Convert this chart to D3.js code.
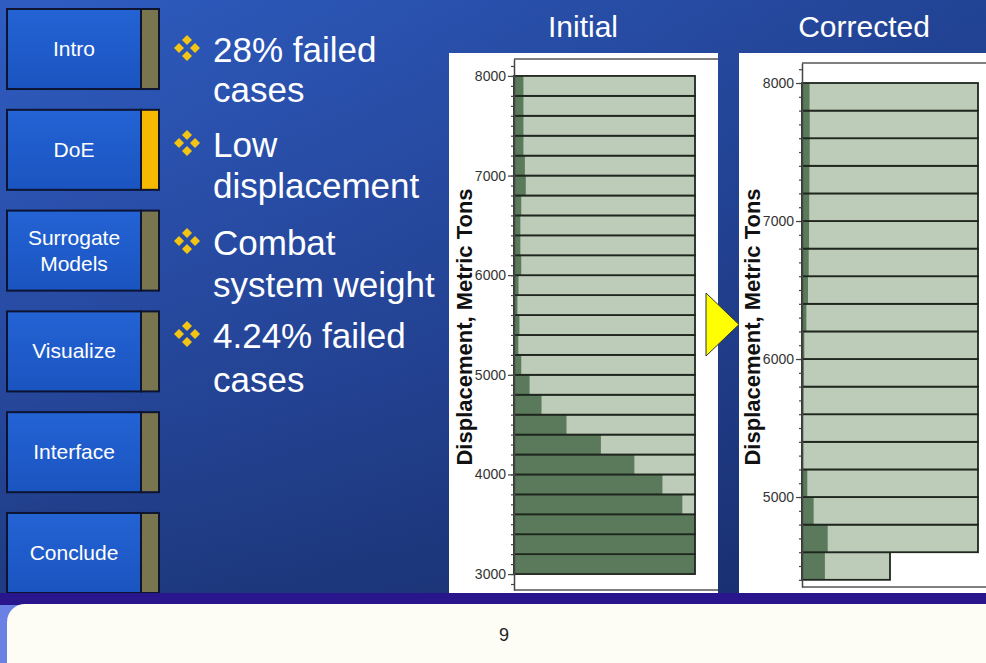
<!DOCTYPE html>
<html>
<head>
<meta charset="utf-8">
<script src="https://cdn.jsdelivr.net/npm/d3@7"></script>
<style>
  body { margin: 0; overflow: hidden; background: #1c3a80; }
  text { font-family: "Liberation Sans", Arial, sans-serif; }
</style>
</head>
<body>
<script>

// slide texts
var navLabels = ["Intro", "DoE", "Surrogate Models", "Visualize", "Interface", "Conclude"];
var activeNav = "DoE";
var bulletLines = [["28% failed", "cases"], ["Low", "displacement"], ["Combat", "system weight"], ["4.24% failed", "cases"]];
var pageNumber = "9";
var axisTitle = "Displacement, Metric Tons";

// initial histogram: bin start (metric tons), failed share, bar length
var initialBins   = [3000, 3200, 3400, 3600, 3800, 4000, 4200, 4400, 4600, 4800, 5000, 5200, 5400,
                     5600, 5800, 6000, 6200, 6400, 6600, 6800, 7000, 7200, 7400, 7600, 7800];
var initialFailed = [1, 1, 1, 0.93, 0.82, 0.665, 0.48, 0.29, 0.152, 0.086, 0.04, 0.024, 0.03,
                     0.019, 0.025, 0.04, 0.035, 0.035, 0.04, 0.065, 0.06, 0.052, 0.052, 0.052, 0.052];
var initialTotal  = [1, 1, 1, 1, 1, 1, 1, 1, 1, 1, 1, 1, 1,
                     1, 1, 1, 1, 1, 1, 1, 1, 1, 1, 1, 1];
var initialTicks  = [3000, 4000, 5000, 6000, 7000, 8000];

// corrected histogram
var correctedBins   = [4400, 4600, 4800, 5000, 5200, 5400, 5600, 5800, 6000,
                       6200, 6400, 6600, 6800, 7000, 7200, 7400, 7600, 7800];
var correctedFailed = [0.13, 0.146, 0.066, 0.03, 0.007, 0.006, 0.008, 0.01, 0.013,
                       0.025, 0.034, 0.038, 0.04, 0.041, 0.042, 0.044, 0.044, 0.043];
var correctedTotal  = [0.5, 1, 1, 1, 1, 1, 1, 1, 1,
                       1, 1, 1, 1, 1, 1, 1, 1, 1];
var correctedTicks  = [5000, 6000, 7000, 8000];

var binWidth = 200;

var width = 986, height = 663;

var svg = d3.select("body")
    .append("svg")
    .attr("width", width)
    .attr("height", height);

var defs = svg.append("defs");

// background gradients
var bg = defs.append("linearGradient").attr("id", "bgV")
    .attr("x1", 0).attr("y1", 0).attr("x2", 0).attr("y2", 1);
bg.append("stop").attr("offset", "0%").attr("stop-color", "#2f5dc2");
bg.append("stop").attr("offset", "55%").attr("stop-color", "#27499f");
bg.append("stop").attr("offset", "100%").attr("stop-color", "#1c377a");

var bgH = defs.append("linearGradient").attr("id", "bgH")
    .attr("x1", 0).attr("y1", 0).attr("x2", 1).attr("y2", 0);
bgH.append("stop").attr("offset", "0%").attr("stop-color", "#0a1440").attr("stop-opacity", 0);
bgH.append("stop").attr("offset", "100%").attr("stop-color", "#0a1440").attr("stop-opacity", 0.35);

var btn = defs.append("linearGradient").attr("id", "btnG")
    .attr("x1", 0).attr("y1", 0).attr("x2", 0).attr("y2", 1);
btn.append("stop").attr("offset", "0%").attr("stop-color", "#2463d4");
btn.append("stop").attr("offset", "100%").attr("stop-color", "#1a54c0");

var rule = defs.append("linearGradient").attr("id", "ruleG")
    .attr("x1", 0).attr("y1", 0).attr("x2", 1).attr("y2", 0);
rule.append("stop").attr("offset", "0%").attr("stop-color", "#8c9c9c");
rule.append("stop").attr("offset", "100%").attr("stop-color", "#c4aa52");

svg.append("rect").attr("width", width).attr("height", height).attr("fill", "url(#bgV)");
svg.append("rect").attr("width", width).attr("height", 593).attr("fill", "url(#bgH)");

// thin rule at top
svg.append("line")
    .attr("x1", 160).attr("x2", 865).attr("y1", 5).attr("y2", 5)
    .attr("stroke", "url(#ruleG)").attr("stroke-width", 2.5);

// left navigation buttons
var navY = d3.scaleBand().domain(navLabels).range([9, 593]).paddingInner(0.206);

var nav = svg.selectAll(".nav")
    .data(navLabels)
    .enter()
    .append("g")
    .attr("class", "nav")
    .attr("transform", function(d){ return "translate(7," + navY(d) + ")"; });

nav.append("rect")
    .attr("width", 134).attr("height", navY.bandwidth())
    .attr("fill", "url(#btnG)")
    .attr("stroke", "#0c1432").attr("stroke-width", 2);

nav.append("rect")
    .attr("x", 134).attr("width", 18).attr("height", navY.bandwidth())
    .attr("fill", function(d){ return d === activeNav ? "#f6b800" : "#78754f"; })
    .attr("stroke", "#0c1432").attr("stroke-width", 2);

nav.append("text")
    .attr("x", 67)
    .attr("text-anchor", "middle")
    .attr("fill", "#ffffff")
    .style("font-size", "21px")
    .each(function(d){
        var words = d.split(" ");
        var el = d3.select(this);
        var h = navY.bandwidth();
        words.forEach(function(w, i){
            el.append("tspan")
                .attr("x", 67)
                .attr("y", h / 2 + 7 + (i - (words.length - 1) / 2) * 26)
                .text(w);
        });
    });

// bullet list
var bulletBase = [[62, 102], [157, 198], [255, 297], [348, 392]];

function diamondBullet(g, cx, cy){
    var offs = [[0, -8], [-8, 0], [8, 0], [0, 8]];
    offs.forEach(function(o){
        var x = cx + o[0], y = cy + o[1], r = 5;
        g.append("path")
            .attr("d", "M" + x + "," + (y - r) + "L" + (x + r) + "," + y + "L" + x + "," + (y + r) + "L" + (x - r) + "," + y + "Z")
            .attr("fill", "#f2c414");
    });
}

bulletLines.forEach(function(lines, i){
    var g = svg.append("g");
    diamondBullet(g, 187, bulletBase[i][0] - 14);
    lines.forEach(function(t, j){
        g.append("text")
            .attr("x", 213)
            .attr("y", bulletBase[i][j])
            .attr("fill", "#ffffff")
            .style("font-size", "35px")
            .text(t);
    });
});

// chart titles
svg.append("text").attr("x", 583).attr("y", 37).attr("text-anchor", "middle")
    .attr("fill", "#ffffff").style("font-size", "30px").text("Initial");
svg.append("text").attr("x", 864).attr("y", 37).attr("text-anchor", "middle")
    .attr("fill", "#ffffff").style("font-size", "30px").text("Corrected");


function makeHist(cfg){

    var g = svg.append("g");

    // white panel behind the chart
    g.append("rect")
        .attr("x", cfg.panel[0]).attr("y", cfg.panel[1])
        .attr("width", cfg.panel[2] - cfg.panel[0]).attr("height", cfg.panel[3] - cfg.panel[1])
        .attr("fill", "#ffffff");

    var yScale = d3.scaleLinear()
        .domain(cfg.domain)
        .range([cfg.bottom, cfg.top]);

    var xScale = d3.scaleLinear()
        .domain([0, 1])
        .range([cfg.left, cfg.right]);

    var rows = cfg.bins.map(function(b, i){
        return {lo: b, hi: b + binWidth, failed: cfg.failed[i], total: cfg.total[i]};
    });

    var bars = g.selectAll(".bar")
        .data(rows)
        .enter()
        .append("g")
        .attr("class", "bar");

    // passed cases (light) then failed cases (dark) on top
    bars.append("rect")
        .attr("x", xScale(0))
        .attr("y", function(d){ return yScale(d.hi); })
        .attr("width", function(d){ return xScale(d.total) - xScale(0); })
        .attr("height", function(d){ return yScale(d.lo) - yScale(d.hi); })
        .attr("fill", "#bdcbb9");

    bars.append("rect")
        .attr("x", xScale(0))
        .attr("y", function(d){ return yScale(d.hi); })
        .attr("width", function(d){ return xScale(d.failed) - xScale(0); })
        .attr("height", function(d){ return yScale(d.lo) - yScale(d.hi); })
        .attr("fill", "#5b7a5b");

    bars.append("rect")
        .attr("x", xScale(0))
        .attr("y", function(d){ return yScale(d.hi); })
        .attr("width", function(d){ return xScale(d.total) - xScale(0); })
        .attr("height", function(d){ return yScale(d.lo) - yScale(d.hi); })
        .attr("fill", "none")
        .attr("stroke", "#1e261e")
        .attr("stroke-width", 1.8);

    // frame lines top and bottom, cut at the panel edge
    [cfg.top, cfg.bottom].forEach(function(yy){
        g.append("line")
            .attr("x1", cfg.left).attr("x2", cfg.panel[2])
            .attr("y1", yy).attr("y2", yy)
            .attr("stroke", "#555").attr("stroke-width", 1.5);
    });

    // minor ticks every 100
    var minor = d3.range(Math.ceil(cfg.domain[0] / 100) * 100, cfg.domain[1], 100);
    g.append("g")
        .attr("transform", "translate(" + cfg.left + ",0)")
        .call(d3.axisLeft(yScale).tickValues(minor).tickSize(3).tickSizeOuter(0).tickFormat(""))
        .call(function(a){
            a.selectAll("line").attr("stroke", "#444").attr("stroke-width", 1.2);
            a.select(".domain").remove();
        });

    // major ticks
    g.append("g")
        .attr("transform", "translate(" + cfg.left + ",0)")
        .call(d3.axisLeft(yScale).tickValues(cfg.ticks).tickSize(6).tickSizeOuter(0).tickPadding(2).tickFormat(d3.format("d")))
        .call(function(a){
            a.select(".domain").attr("stroke", "#444").attr("stroke-width", 1.5);
            a.selectAll("line").attr("stroke", "#444").attr("stroke-width", 1.2);
            a.selectAll("text")
                .attr("fill", "#333")
                .style("font-size", "14px")
                .style("font-family", "'Liberation Sans', Arial, sans-serif");
        });

    // axis title
    g.append("text")
        .attr("transform", "translate(" + cfg.labelX + "," + 327 + ") rotate(-90)")
        .attr("text-anchor", "middle")
        .attr("fill", "#111")
        .style("font-size", "22px")
        .style("font-weight", "bold")
        .text(axisTitle);
}

makeHist({
    panel: [449, 53, 718, 593],
    left: 514, right: 695, top: 59, bottom: 590,
    domain: [2840, 8170],
    bins: initialBins, failed: initialFailed, total: initialTotal,
    ticks: initialTicks,
    labelX: 472
});

makeHist({
    panel: [739, 53, 986, 593],
    left: 802, right: 978, top: 63, bottom: 587,
    domain: [4348, 8145],
    bins: correctedBins, failed: correctedFailed, total: correctedTotal,
    ticks: correctedTicks,
    labelX: 760
});

// yellow arrow between the charts
svg.append("path")
    .attr("d", "M706,293L739,324.5L706,356Z")
    .attr("fill", "#ffff00")
    .attr("stroke", "#333").attr("stroke-width", 1);

// footer
svg.append("rect").attr("x", 0).attr("y", 593).attr("width", width).attr("height", 12).attr("fill", "#2a168c");
svg.append("rect").attr("x", 0).attr("y", 605).attr("width", width).attr("height", 58).attr("fill", "#6a80e4");
svg.append("rect").attr("x", 7).attr("y", 604).attr("width", 1010).attr("height", 80).attr("rx", 18)
    .attr("fill", "#fdfdf6");
svg.append("text").attr("x", 504).attr("y", 641).attr("text-anchor", "middle")
    .attr("fill", "#222").style("font-size", "18px").text(pageNumber);

</script>
</body>
</html>
